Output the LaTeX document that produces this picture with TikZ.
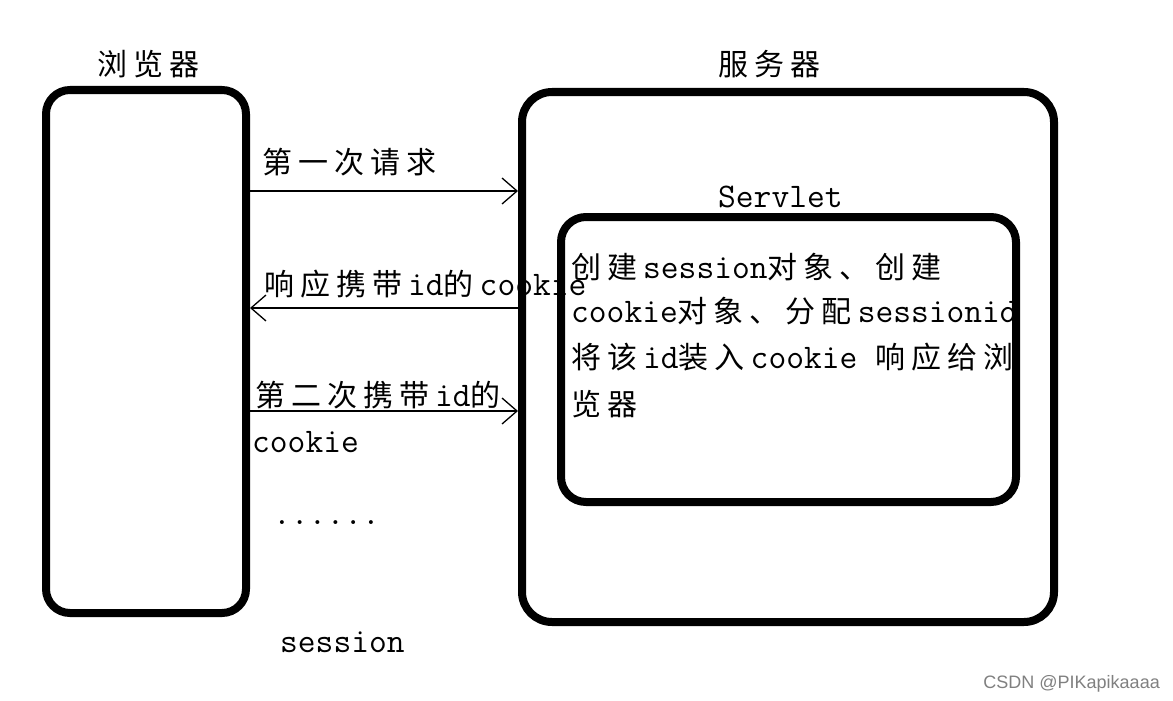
\documentclass[tikz,border=0pt]{standalone}
\usepackage{fontspec}
\newfontfamily\zhf{Noto Sans CJK SC}[LetterSpace=20]
\newfontfamily\wmf{Liberation Sans}
\newcommand\zh[1]{{\fontsize{30}{36}\zhf #1\kern6pt}}
\newcommand\en[1]{{\fontsize{34.5}{40}\ttfamily #1}}
\usetikzlibrary{arrows.meta,backgrounds}
\begin{document}
\begin{tikzpicture}[x=1pt,y=-1pt,
  box/.style={draw, line width=8pt, rounded corners=#1, inner sep=0pt, outer sep=4pt},
  box/.default=25pt,
  lbl/.style={inner sep=0pt, anchor=base west},
  arr/.style={line width=1.3pt, -{Straight Barb[length=15pt,width=26pt,line width=1.3pt]}}]
\useasboundingbox (0,0) rectangle (1173,701);
\node[box=24pt, minimum width=200pt, minimum height=523pt] (br) at (146,351.5) {};
\node[box=30pt, minimum width=532pt, minimum height=530pt] (sv) at (788,357) {};
\node[box=25pt, minimum width=455pt, minimum height=285pt] (sl) at (788.5,359.5) {};
\node[inner sep=0pt, anchor=base] (lb) at (151,75) {\zh{浏览器}};
\node[inner sep=0pt, anchor=base] (ls) at (772,75) {\zh{服务器}};
\node[lbl] (sn) at (718,207) {\en{Servlet}};
\draw[arr] (br.east |- 0,191) -- (sv.west |- 0,191);
\draw[arr] (sv.west |- 0,308) -- (br.east |- 0,308);
\draw[arr] (br.east |- 0,411) -- (sv.west |- 0,411);
\begin{scope}[on background layer]
\fill[white] (0,0) rectangle (1173,701);
\node[lbl] (t1) at (262,173) {\zh{第一次请求}};
\node[lbl] (t2) at (264,295) {\zh{响应携带}\en{id}\zh{的}\en{cookie}};
\node[lbl] (t3) at (255,406) {\zh{第二次携带}\en{id}\zh{的}};
\node[lbl] (t4) at (252,452) {\en{cookie}};
\node[lbl] (t5) at (273,524) {\en{......}};
\node[lbl] (t6) at (280,652) {\en{session}};
\node[lbl] (s1) at (571,278) {\zh{创建}\en{session}\zh{对象、创建}};
\node[lbl] (s2) at (571,322) {\en{cookie}\zh{对象、分配}\en{sessionid}};
\node[lbl] (s3) at (571,368) {\zh{将该}\en{id}\zh{装入}\en{cookie }\zh{响应给浏}};
\node[lbl] (s4) at (571,415) {\zh{览器}};
\end{scope}
\node[anchor=base east, inner sep=0pt, text=black!50, font=\wmf\fontsize{18}{20}\selectfont] (wm) at (1160,688) {CSDN @PIKapikaaaa};
\end{tikzpicture}
\end{document}
